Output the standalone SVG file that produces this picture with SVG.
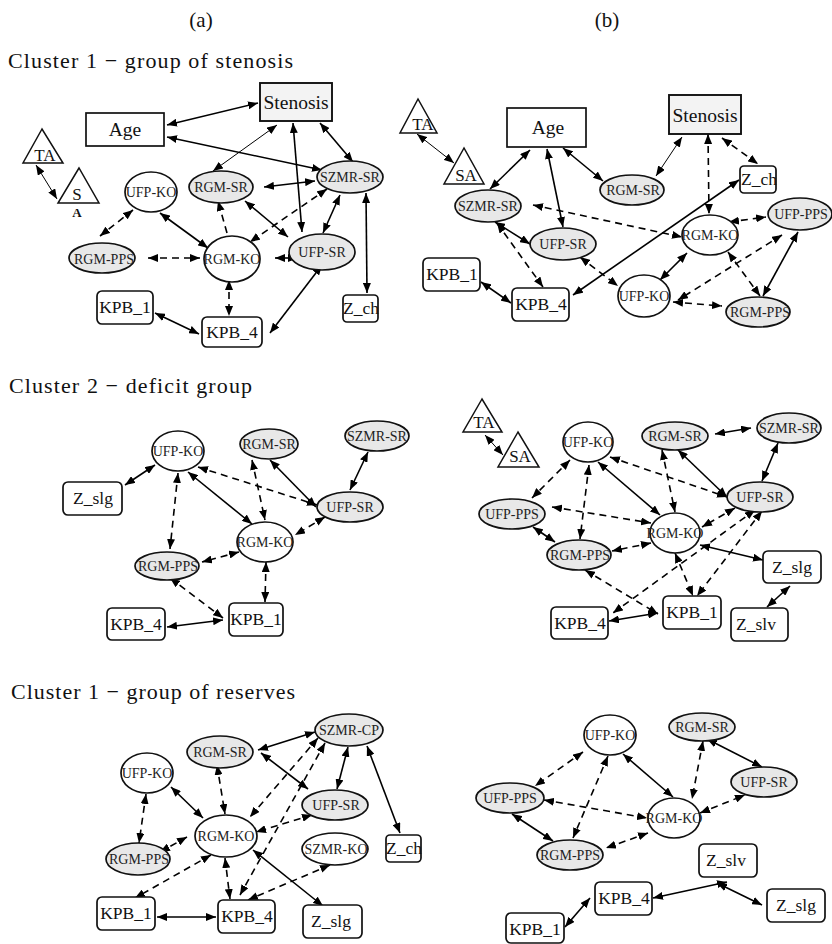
<svg xmlns="http://www.w3.org/2000/svg" width="832" height="944" viewBox="0 0 832 944">
<defs>
<marker id="ah" viewBox="0 0 10 8" refX="10" refY="4" markerWidth="10" markerHeight="8" markerUnits="userSpaceOnUse" orient="auto-start-reverse"><path d="M0,0 L10,4 L0,8 z" fill="#000"/></marker>
<style>
text{font-family:"Liberation Serif","Times New Roman",serif;fill:#111}
.title{font-size:22px}
.hdr{font-size:21px;text-anchor:middle}
.lb{font-size:14px;text-anchor:middle;fill:#222}
.bx{font-size:17.5px;text-anchor:middle}
.bb{font-size:19.5px;text-anchor:middle}
.tt{font-size:17px;text-anchor:middle}
.g{fill:#e8e8e8;stroke:#111;stroke-width:1.7}
.w{fill:#fff;stroke:#111;stroke-width:1.7}
.r{fill:#fff;stroke:#111;stroke-width:1.7}
.rs{fill:#f3f3f3;stroke:#111;stroke-width:1.9}
.tri{fill:#fff;stroke:#111;stroke-width:1.5}
#edges line{stroke:#000;stroke-width:1.6;fill:none;marker-start:url(#ah);marker-end:url(#ah)}
#edges line.d{stroke-dasharray:7 5}
#edges line.t{stroke-width:1}
#edges line.one{marker-start:none}
</style>
</defs>
<rect width="832" height="944" fill="#fff"/>
<text class="hdr" x="201" y="27">(a)</text>
<text class="hdr" x="607" y="27">(b)</text>
<text class="title" x="8" y="68" textLength="285" lengthAdjust="spacing">Cluster 1 − group of stenosis</text>
<text class="title" x="9" y="393" textLength="243" lengthAdjust="spacing">Cluster 2 − deficit group</text>
<text class="title" x="11" y="699" textLength="284" lengthAdjust="spacing">Cluster 1 − group of reserves</text>

<g id="edges">
<!-- 1a -->
<line x1="167" y1="125" x2="258" y2="103"/>
<line x1="167" y1="137" x2="322" y2="170"/>
<line class="t" x1="277" y1="125" x2="213" y2="171"/>
<line x1="293" y1="123" x2="302" y2="232"/>
<line x1="320" y1="123" x2="353" y2="162"/>
<line x1="264" y1="187" x2="315" y2="181"/>
<line x1="245" y1="201" x2="288" y2="237"/>
<line class="d" x1="327" y1="189" x2="250" y2="242"/>
<line class="d one" x1="227" y1="233" x2="218" y2="201"/>
<line class="d" x1="133" y1="210" x2="100" y2="236"/>
<line x1="160" y1="213" x2="208" y2="248"/>
<line class="d" x1="148" y1="258" x2="200" y2="258"/>
<line x1="275" y1="258" x2="298" y2="258"/>
<line x1="340" y1="195" x2="323" y2="233"/>
<line x1="366" y1="193" x2="367" y2="293"/>
<line class="d" x1="229" y1="280" x2="229" y2="316"/>
<line x1="155" y1="313" x2="199" y2="334"/>
<line x1="322" y1="265" x2="270" y2="333"/>
<line class="t" x1="36" y1="165" x2="57" y2="199"/>
<!-- 1b -->
<line class="t" x1="417" y1="134" x2="454" y2="163"/>
<line x1="530" y1="150" x2="490" y2="189"/>
<line x1="547" y1="149" x2="563" y2="227"/>
<line x1="563" y1="148" x2="603" y2="181"/>
<line class="t" x1="682" y1="137" x2="656" y2="176"/>
<line class="d" x1="708" y1="134" x2="709" y2="214"/>
<line class="d" x1="722" y1="138" x2="758" y2="164"/>
<line x1="739" y1="180" x2="573" y2="295"/>
<line class="d" x1="533" y1="205" x2="682" y2="237"/>
<line x1="495" y1="222" x2="530" y2="244"/>
<line class="d" x1="497" y1="223" x2="543" y2="287"/>
<line x1="481" y1="282" x2="511" y2="303"/>
<line class="d" x1="580" y1="257" x2="618" y2="286"/>
<line class="d" x1="729" y1="222" x2="766" y2="217"/>
<line x1="687" y1="253" x2="660" y2="280"/>
<line class="d" x1="782" y1="235" x2="678" y2="300"/>
<line x1="798" y1="232" x2="763" y2="296"/>
<line class="d" x1="728" y1="252" x2="760" y2="296"/>
<line class="d" x1="673" y1="302" x2="722" y2="306"/>
<!-- 2a -->
<line x1="155" y1="465" x2="125" y2="485"/>
<line class="d" x1="178" y1="473" x2="170" y2="549"/>
<line x1="188" y1="472" x2="252" y2="524"/>
<line class="d" x1="198" y1="467" x2="317" y2="505"/>
<line class="d" x1="252" y1="460" x2="265" y2="520"/>
<line x1="270" y1="460" x2="316" y2="507"/>
<line x1="368" y1="452" x2="350" y2="490"/>
<line class="d" x1="325" y1="517" x2="295" y2="535"/>
<line class="d" x1="239" y1="552" x2="202" y2="562"/>
<line class="d" x1="266" y1="562" x2="265" y2="602"/>
<line class="d" x1="170" y1="578" x2="223" y2="618"/>
<line x1="167" y1="627" x2="223" y2="620"/>
<!-- 2b -->
<line class="t" x1="485" y1="435" x2="503" y2="455"/>
<line x1="715" y1="434" x2="751" y2="428"/>
<line x1="778" y1="443" x2="762" y2="481"/>
<line class="d" x1="570" y1="460" x2="532" y2="498"/>
<line class="d" x1="589" y1="465" x2="580" y2="539"/>
<line x1="598" y1="462" x2="660" y2="515"/>
<line class="d" x1="610" y1="457" x2="727" y2="497"/>
<line class="d" x1="662" y1="450" x2="675" y2="512"/>
<line x1="678" y1="450" x2="727" y2="497"/>
<line class="d" x1="552" y1="507" x2="651" y2="523"/>
<line x1="533" y1="527" x2="555" y2="542"/>
<line class="d" x1="651" y1="543" x2="612" y2="551"/>
<line class="d" x1="735" y1="508" x2="702" y2="527"/>
<line class="d" x1="755" y1="510" x2="613" y2="613"/>
<line class="d" x1="762" y1="511" x2="697" y2="596"/>
<line class="d" x1="675" y1="553" x2="693" y2="596"/>
<line x1="700" y1="545" x2="763" y2="560"/>
<line class="d" x1="585" y1="570" x2="658" y2="614"/>
<line x1="609" y1="621" x2="658" y2="613"/>
<line x1="790" y1="586" x2="767" y2="607"/>
<!-- 3a -->
<line x1="258" y1="750" x2="315" y2="732"/>
<line x1="261" y1="753" x2="308" y2="789"/>
<line class="d" x1="318" y1="738" x2="250" y2="817"/>
<line class="d" x1="325" y1="743" x2="240" y2="895"/>
<line x1="348" y1="747" x2="337" y2="789"/>
<line x1="367" y1="746" x2="400" y2="833"/>
<line x1="171" y1="787" x2="203" y2="818"/>
<line class="d" x1="146" y1="794" x2="139" y2="843"/>
<line class="d" x1="217" y1="765" x2="225" y2="814"/>
<line class="d" x1="312" y1="815" x2="256" y2="832"/>
<line class="d" x1="187" y1="837" x2="160" y2="852"/>
<line class="d" x1="211" y1="855" x2="135" y2="898"/>
<line class="d" x1="225" y1="858" x2="230" y2="899"/>
<line x1="253" y1="850" x2="323" y2="906"/>
<line class="d" x1="330" y1="865" x2="248" y2="900"/>
<line x1="157" y1="917" x2="216" y2="917"/>
<!-- 3b -->
<line class="d" x1="583" y1="752" x2="535" y2="786"/>
<line class="d" x1="608" y1="756" x2="573" y2="838"/>
<line x1="623" y1="754" x2="673" y2="797"/>
<line class="d" x1="703" y1="741" x2="692" y2="799"/>
<line x1="707" y1="739" x2="762" y2="767"/>
<line class="d" x1="544" y1="800" x2="647" y2="818"/>
<line x1="512" y1="814" x2="553" y2="841"/>
<line class="d" x1="648" y1="833" x2="606" y2="848"/>
<line class="d" x1="700" y1="813" x2="745" y2="795"/>
<line x1="653" y1="898" x2="727" y2="882"/>
<line x1="717" y1="883" x2="762" y2="905"/>
<line x1="565" y1="927" x2="590" y2="898"/>
</g>

<!-- Panel 1a nodes -->
<g id="a1-stenosis"><rect class="rs" x="260" y="83" width="72" height="38"/><text class="bb" x="296" y="109">Stenosis</text></g>
<g id="a1-age"><rect class="r" x="86" y="113" width="78" height="33"/><text class="bb" x="125" y="136">Age</text></g>
<g id="a1-ta"><polygon class="tri" points="42,129 23,163 63,163"/><text class="tt" x="45" y="161">TA</text></g>
<g id="a1-sa"><polygon class="tri" points="79,168 58,203 99,203"/><text class="tt" x="77" y="200">S</text><text x="77" y="217" style="font-size:13px;font-weight:bold;text-anchor:middle">A</text></g>
<g id="a1-ufpko"><ellipse class="w" cx="151" cy="192" rx="26" ry="20"/><text class="lb" x="151" y="197">UFP-KO</text></g>
<g id="a1-rgmsr"><ellipse class="g" cx="221" cy="187" rx="32" ry="16"/><text class="lb" x="221" y="192">RGM-SR</text></g>
<g id="a1-szmrsr"><ellipse class="g" cx="350" cy="177" rx="33" ry="16"/><text class="lb" x="350" y="182">SZMR-SR</text></g>
<g id="a1-rgmpps"><ellipse class="g" cx="102" cy="258" rx="33" ry="15"/><text class="lb" x="104" y="264">RGM-PPS</text></g>
<g id="a1-rgmko"><ellipse class="w" cx="232" cy="259" rx="28" ry="23"/><text class="lb" x="232" y="264">RGM-KO</text></g>
<g id="a1-ufpsr"><ellipse class="g" cx="322" cy="252" rx="33" ry="18"/><text class="lb" x="322" y="257">UFP-SR</text></g>
<g id="a1-kpb1"><rect class="r" x="97" y="291" width="56" height="33" rx="5"/><text class="bx" x="125" y="313">KPB_1</text></g>
<g id="a1-kpb4"><rect class="r" x="202" y="317" width="60" height="30" rx="5"/><text class="bx" x="232" y="338">KPB_4</text></g>
<g id="a1-zch"><rect class="r" x="343" y="295" width="35" height="27" rx="4"/><text class="bx" x="361" y="314">Z_ch</text></g>

<!-- Panel 1b nodes -->
<g id="b1-ta"><polygon class="tri" points="418,99 400,133 437,133"/><text class="tt" x="423" y="130">TA</text></g>
<g id="b1-sa"><polygon class="tri" points="464,148 444,184 484,184"/><text class="tt" x="466" y="181">SA</text></g>
<g id="b1-age"><rect class="r" x="507" y="108" width="79" height="39"/><text class="bb" x="548" y="134">Age</text></g>
<g id="b1-stenosis"><rect class="rs" x="669" y="95" width="72" height="39"/><text class="bb" x="705" y="122">Stenosis</text></g>
<g id="b1-rgmsr"><ellipse class="g" cx="632" cy="190" rx="32" ry="15"/><text class="lb" x="633" y="195">RGM-SR</text></g>
<g id="b1-zch"><rect class="r" x="740" y="166" width="36" height="27" rx="4"/><text class="bx" x="759" y="185">Z_ch</text></g>
<g id="b1-szmrsr"><ellipse class="g" cx="488" cy="206" rx="33" ry="16"/><text class="lb" x="488" y="211">SZMR-SR</text></g>
<g id="b1-ufppps"><ellipse class="g" cx="800" cy="214" rx="32" ry="16"/><text class="lb" x="801" y="219">UFP-PPS</text></g>
<g id="b1-rgmko"><ellipse class="w" cx="710" cy="235" rx="28" ry="20"/><text class="lb" x="710" y="240">RGM-KO</text></g>
<g id="b1-ufpsr"><ellipse class="g" cx="563" cy="244" rx="33" ry="16"/><text class="lb" x="563" y="249">UFP-SR</text></g>
<g id="b1-kpb1"><rect class="r" x="423" y="258" width="57" height="33" rx="5"/><text class="bx" x="452" y="280">KPB_1</text></g>
<g id="b1-kpb4"><rect class="r" x="512" y="288" width="57" height="33" rx="5"/><text class="bx" x="541" y="310">KPB_4</text></g>
<g id="b1-ufpko"><ellipse class="w" cx="644" cy="296" rx="26" ry="21"/><text class="lb" x="644" y="301">UFP-KO</text></g>
<g id="b1-rgmpps"><ellipse class="g" cx="758" cy="312" rx="32" ry="15"/><text class="lb" x="760" y="317">RGM-PPS</text></g>

<!-- Panel 2a nodes -->
<g id="a2-ufpko"><ellipse class="w" cx="178" cy="451" rx="26" ry="20"/><text class="lb" x="178" y="456">UFP-KO</text></g>
<g id="a2-rgmsr"><ellipse class="g" cx="269" cy="444" rx="29" ry="15"/><text class="lb" x="269" y="449">RGM-SR</text></g>
<g id="a2-szmrsr"><ellipse class="g" cx="377" cy="436" rx="32" ry="15"/><text class="lb" x="377" y="441">SZMR-SR</text></g>
<g id="a2-zslg"><rect class="r" x="63" y="482" width="59" height="33" rx="5"/><text class="bx" x="93" y="504">Z_slg</text></g>
<g id="a2-ufpsr"><ellipse class="g" cx="350" cy="507" rx="33" ry="15"/><text class="lb" x="350" y="512">UFP-SR</text></g>
<g id="a2-rgmko"><ellipse class="w" cx="265" cy="542" rx="28" ry="20"/><text class="lb" x="265" y="547">RGM-KO</text></g>
<g id="a2-rgmpps"><ellipse class="g" cx="167" cy="566" rx="32" ry="14"/><text class="lb" x="168" y="571">RGM-PPS</text></g>
<g id="a2-kpb1"><rect class="r" x="229" y="603" width="54" height="33" rx="5"/><text class="bx" x="256" y="625">KPB_1</text></g>
<g id="a2-kpb4"><rect class="r" x="107" y="608" width="58" height="32" rx="5"/><text class="bx" x="136" y="630">KPB_4</text></g>

<!-- Panel 2b nodes -->
<g id="b2-ta"><polygon class="tri" points="482,399 463,432 502,432"/><text class="tt" x="484" y="428">TA</text></g>
<g id="b2-sa"><polygon class="tri" points="518,432 498,467 539,467"/><text class="tt" x="520" y="462">SA</text></g>
<g id="b2-ufpko"><ellipse class="w" cx="588" cy="442" rx="25" ry="20"/><text class="lb" x="588" y="447">UFP-KO</text></g>
<g id="b2-rgmsr"><ellipse class="g" cx="675" cy="436" rx="33" ry="14"/><text class="lb" x="675" y="441">RGM-SR</text></g>
<g id="b2-szmrsr"><ellipse class="g" cx="789" cy="428" rx="32" ry="15"/><text class="lb" x="789" y="433">SZMR-SR</text></g>
<g id="b2-ufpsr"><ellipse class="g" cx="760" cy="497" rx="33" ry="15"/><text class="lb" x="760" y="502">UFP-SR</text></g>
<g id="b2-ufppps"><ellipse class="g" cx="512" cy="514" rx="33" ry="15"/><text class="lb" x="512" y="519">UFP-PPS</text></g>
<g id="b2-rgmko"><ellipse class="w" cx="675" cy="533" rx="25" ry="20"/><text class="lb" x="675" y="538">RGM-KO</text></g>
<g id="b2-rgmpps"><ellipse class="g" cx="579" cy="555" rx="32" ry="15"/><text class="lb" x="580" y="560">RGM-PPS</text></g>
<g id="b2-zslg"><rect class="r" x="763" y="551" width="58" height="32" rx="5"/><text class="bx" x="792" y="573">Z_slg</text></g>
<g id="b2-kpb1"><rect class="r" x="663" y="596" width="58" height="33" rx="5"/><text class="bx" x="692" y="618">KPB_1</text></g>
<g id="b2-kpb4"><rect class="r" x="551" y="607" width="57" height="32" rx="5"/><text class="bx" x="580" y="629">KPB_4</text></g>
<g id="b2-zslv"><rect class="r" x="731" y="608" width="57" height="33" rx="5"/><text class="bx" x="756" y="630">Z_slv</text></g>

<!-- Panel 3a nodes -->
<g id="a3-szmrcp"><ellipse class="g" cx="349" cy="730" rx="34" ry="16"/><text class="lb" x="349" y="735">SZMR-CP</text></g>
<g id="a3-rgmsr"><ellipse class="g" cx="220" cy="752" rx="33" ry="16"/><text class="lb" x="220" y="757">RGM-SR</text></g>
<g id="a3-ufpko"><ellipse class="w" cx="147" cy="773" rx="26" ry="20"/><text class="lb" x="147" y="778">UFP-KO</text></g>
<g id="a3-ufpsr"><ellipse class="g" cx="335" cy="805" rx="33" ry="15"/><text class="lb" x="336" y="810">UFP-SR</text></g>
<g id="a3-rgmko"><ellipse class="w" cx="226" cy="836" rx="31" ry="21"/><text class="lb" x="226" y="841">RGM-KO</text></g>
<g id="a3-szmrko"><ellipse class="w" cx="335" cy="849" rx="33" ry="16"/><text class="lb" x="336" y="854">SZMR-KO</text></g>
<g id="a3-zch"><rect class="r" x="386" y="835" width="35" height="27" rx="4"/><text class="bx" x="404" y="854">Z_ch</text></g>
<g id="a3-rgmpps"><ellipse class="g" cx="138" cy="859" rx="32" ry="16"/><text class="lb" x="139" y="864">RGM-PPS</text></g>
<g id="a3-kpb1"><rect class="r" x="97" y="897" width="58" height="33" rx="5"/><text class="bx" x="126" y="919">KPB_1</text></g>
<g id="a3-kpb4"><rect class="r" x="218" y="900" width="57" height="33" rx="5"/><text class="bx" x="247" y="922">KPB_4</text></g>
<g id="a3-zslg"><rect class="r" x="303" y="905" width="59" height="33" rx="5"/><text class="bx" x="331" y="927">Z_slg</text></g>

<!-- Panel 3b nodes -->
<g id="b3-ufpko"><ellipse class="w" cx="610" cy="735" rx="26" ry="20"/><text class="lb" x="610" y="740">UFP-KO</text></g>
<g id="b3-rgmsr"><ellipse class="g" cx="702" cy="727" rx="33" ry="14"/><text class="lb" x="702" y="732">RGM-SR</text></g>
<g id="b3-ufpsr"><ellipse class="g" cx="764" cy="782" rx="33" ry="15"/><text class="lb" x="764" y="787">UFP-SR</text></g>
<g id="b3-ufppps"><ellipse class="g" cx="510" cy="798" rx="34" ry="15"/><text class="lb" x="510" y="803">UFP-PPS</text></g>
<g id="b3-rgmko"><ellipse class="w" cx="674" cy="818" rx="26" ry="20"/><text class="lb" x="674" y="823">RGM-KO</text></g>
<g id="b3-rgmpps"><ellipse class="g" cx="570" cy="855" rx="33" ry="15"/><text class="lb" x="570" y="860">RGM-PPS</text></g>
<g id="b3-zslv"><rect class="r" x="699" y="844" width="58" height="33" rx="5"/><text class="bx" x="726" y="866">Z_slv</text></g>
<g id="b3-kpb4"><rect class="r" x="595" y="882" width="57" height="33" rx="5"/><text class="bx" x="624" y="904">KPB_4</text></g>
<g id="b3-zslg"><rect class="r" x="767" y="889" width="58" height="33" rx="5"/><text class="bx" x="796" y="911">Z_slg</text></g>
<g id="b3-kpb1"><rect class="r" x="506" y="913" width="58" height="30" rx="5"/><text class="bx" x="535" y="935">KPB_1</text></g>
</svg>
